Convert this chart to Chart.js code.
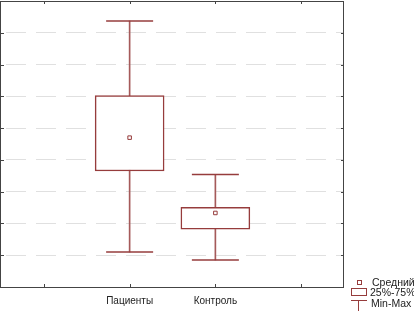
<!DOCTYPE html>
<html>
<head>
<meta charset="utf-8">
<script src="https://cdn.jsdelivr.net/npm/chart.js@4/dist/chart.umd.min.js"></script>
<style>
  body { margin: 0; background: #fff; }
</style>
</head>
<body>
<canvas id="Chart" width="414" height="311"></canvas>
<script>
  const categories = ["", "Пациенты", "Контроль", ""];
  const minVals = [null, 1.10, 0.85, null];
  const q1Vals = [null, 3.65, 1.82, null];
  const meanVals = [null, 4.70, 2.33, null];
  const q3Vals = [null, 6.02, 2.51, null];
  const maxVals = [null, 8.37, 3.54, null];
  const yMin = 0, yMax = 9, yStep = 1;

  const red = "#963c3c";

  const pairs = (a, b) => a.map((v, i) => (v == null ? null : [v, b[i]]));

  // frame, inner tick marks and the little legend in the corner
  const framePlugin = {
    id: "frame",
    afterDraw(chart) {
      const c = chart.ctx;
      const a = chart.chartArea;
      const x = chart.scales.x;
      const y = chart.scales.y;
      c.save();
      c.strokeStyle = "#444";
      c.lineWidth = 1;
      c.strokeRect(a.left - 0.5, a.top + 0.5, a.right - a.left, a.bottom - a.top);
      c.beginPath();
      for (let i = 0; i < categories.length; i++) {
        const px = Math.round(x.getPixelForTick(i)) + 0.5;
        c.moveTo(px, a.top); c.lineTo(px, a.top + 3);
        c.moveTo(px, a.bottom); c.lineTo(px, a.bottom - 3);
      }
      for (let v = yMin + yStep; v < yMax; v += yStep) {
        const py = Math.round(y.getPixelForValue(v)) + 0.5;
        c.moveTo(a.left, py); c.lineTo(a.left + 3, py);
        c.moveTo(a.right, py); c.lineTo(a.right - 3, py);
      }
      c.stroke();

      // legend
      c.strokeStyle = red;
      c.lineWidth = 1;
      c.strokeRect(357.5, 280.5, 4, 4);
      c.strokeRect(351.5, 288.5, 15, 7);
      c.beginPath();
      c.moveTo(351, 300.5); c.lineTo(367, 300.5);
      c.moveTo(358.5, 300.5); c.lineTo(358.5, 311);
      c.stroke();
      c.fillStyle = "#222";
      c.font = '10.5px "Liberation Sans", Arial, sans-serif';
      c.textBaseline = "middle";
      c.fillText("Средний", 372, 283);
      c.fillText("25%-75%", 370, 293);
      c.fillText("Min-Max", 371, 304);
      c.restore();
    },
  };

  new Chart(document.getElementById("Chart"), {
    type: "bar",
    data: {
      labels: categories,
      datasets: [
        {
          // mean
          type: "line",
          data: meanVals,
          showLine: false,
          pointStyle: "rect",
          pointRadius: 2.5,
          pointBorderWidth: 1,
          pointBorderColor: red,
          pointBackgroundColor: "#fff",
          order: 0,
        },
        {
          // 25%-75% box
          data: pairs(q1Vals, q3Vals),
          backgroundColor: "#fff",
          borderColor: red,
          borderWidth: 1.5,
          borderSkipped: false,
          barThickness: 69,
          grouped: false,
          order: 1,
        },
        {
          // upper caps
          type: "line",
          data: maxVals,
          showLine: false,
          pointStyle: "line",
          pointRadius: 23.5,
          pointBorderWidth: 1.5,
          pointBorderColor: red,
          order: 2,
        },
        {
          // lower caps
          type: "line",
          data: minVals,
          showLine: false,
          pointStyle: "line",
          pointRadius: 23.5,
          pointBorderWidth: 1.5,
          pointBorderColor: red,
          order: 2,
        },
        {
          // whisker stem
          data: pairs(minVals, maxVals),
          backgroundColor: "#a55a5a",
          borderWidth: 0,
          barThickness: 1,
          grouped: false,
          order: 3,
        },
      ],
    },
    options: {
      responsive: false,
      devicePixelRatio: 1,
      animation: false,
      layout: { autoPadding: false, padding: { top: 1, right: 70, left: 0, bottom: 0 } },
      plugins: {
        legend: { display: false },
        tooltip: { enabled: false },
      },
      scales: {
        x: {
          offset: true,
          grid: { display: false },
          border: { display: false },
          ticks: {
            color: "#222",
            padding: 0,
            font: { size: 10, family: '"Liberation Sans", Arial, sans-serif' },
          },
          afterFit(s) { s.height = 24; },
        },
        y: {
          min: yMin,
          max: yMax,
          ticks: { display: false, stepSize: yStep },
          grid: { color: "#e0e0e0", drawTicks: false, lineWidth: 1 },
          border: { display: false, dash: [20, 10], dashOffset: -5 },
          afterFit(s) { s.width = 1; },
        },
      },
    },
    plugins: [framePlugin],
  });
</script>
</body>
</html>
